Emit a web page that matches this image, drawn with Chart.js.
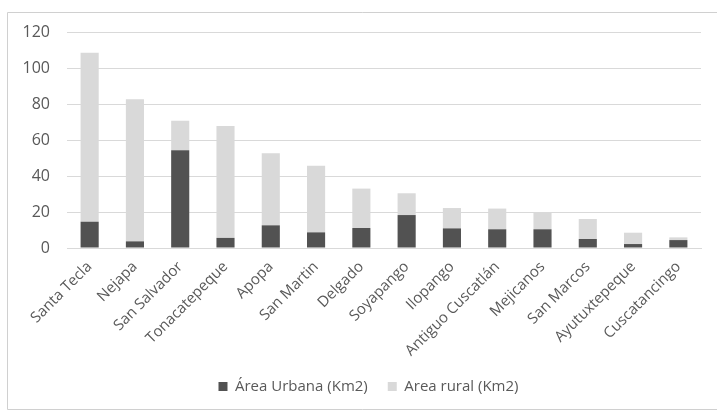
<!DOCTYPE html>
<html>
<head>
<meta charset="utf-8">
<script src="https://cdn.jsdelivr.net/npm/chart.js@4.4.0/dist/chart.umd.min.js"></script>
<style>
html,body{margin:0;padding:0;background:#fff;}
#wrap{position:absolute;left:0;top:0;width:717px;height:411px;}
</style>
</head>
<body>
<div id="wrap"><canvas id="c" width="717" height="411"></canvas></div>
<script>
const categories = ["Santa Tecla","Nejapa","San Salvador","Tonacatepeque","Apopa","San Martin","Delgado","Soyapango","Ilopango","Antiguo Cuscatlán","Mejicanos","San Marcos","Ayutuxtepeque","Cuscatancingo"];
const urbana = [14.6, 3.7, 54.3, 5.6, 12.6, 8.7, 11.1, 18.3, 10.9, 10.4, 10.4, 5.0, 2.2, 4.4];
const rural = [93.9, 78.9, 16.4, 62.2, 40.0, 37.0, 21.9, 12.1, 11.3, 11.5, 9.6, 11.1, 6.3, 1.5];
const yTicks = [0, 20, 40, 60, 80, 100, 120];

const FONT = "'Open Sans', sans-serif";

const borderPlugin = {
  id: 'frame',
  beforeDraw(chart) {
    const ctx = chart.ctx;
    ctx.save();
    ctx.fillStyle = '#fff';
    ctx.fillRect(0, 0, chart.width, chart.height);
    ctx.strokeStyle = '#d0d0d0';
    ctx.lineWidth = 1;
    ctx.beginPath();
    ctx.moveTo(717, 12.5);
    ctx.lineTo(7.5, 12.5);
    ctx.lineTo(7.5, 409.5);
    ctx.lineTo(717, 409.5);
    ctx.stroke();
    ctx.restore();
  },
  afterLayout(chart) {
    if (chart.legend) {
      chart.legend.left += 18;
      chart.legend.right += 18;
    }
  }
};

new Chart(document.getElementById('c'), {
  type: 'bar',
  data: {
    labels: categories,
    datasets: [
      { label: 'Área Urbana (Km2)', data: urbana, backgroundColor: '#525252', barPercentage: 0.4, categoryPercentage: 1 },
      { label: 'Area rural (Km2)', data: rural, backgroundColor: '#d9d9d9', barPercentage: 0.4, categoryPercentage: 1 }
    ]
  },
  options: {
    responsive: false,
    animation: false,
    layout: { padding: { left: 0, right: 16, top: 32, bottom: 12 } },
    plugins: {
      legend: {
        position: 'bottom',
        maxHeight: 40,
        labels: {
          boxWidth: 9, boxHeight: 9, color: '#595959',
          font: { family: FONT, size: 15 }, padding: 20
        }
      },
      tooltip: { enabled: false }
    },
    scales: {
      x: {
        stacked: true,
        grid: { display: false, drawTicks: false },
        border: { color: '#d9d9d9' },
        ticks: { color: '#595959', font: { family: FONT, size: 15 }, minRotation: 45, maxRotation: 45, autoSkip: false, padding: 10 },
        afterFit(s) { s.height = 111; }
      },
      y: {
        stacked: true,
        min: 0, max: 120,
        afterBuildTicks(s) { s.ticks = yTicks.map(v => ({ value: v })); },
        grid: { color: '#d9d9d9', drawTicks: false },
        border: { display: false },
        ticks: { color: '#595959', font: { family: FONT, size: 16 }, padding: 17 },
        afterFit(s) { s.width = 67; }
      }
    }
  },
  plugins: [borderPlugin]
});
</script>
</body>
</html>
